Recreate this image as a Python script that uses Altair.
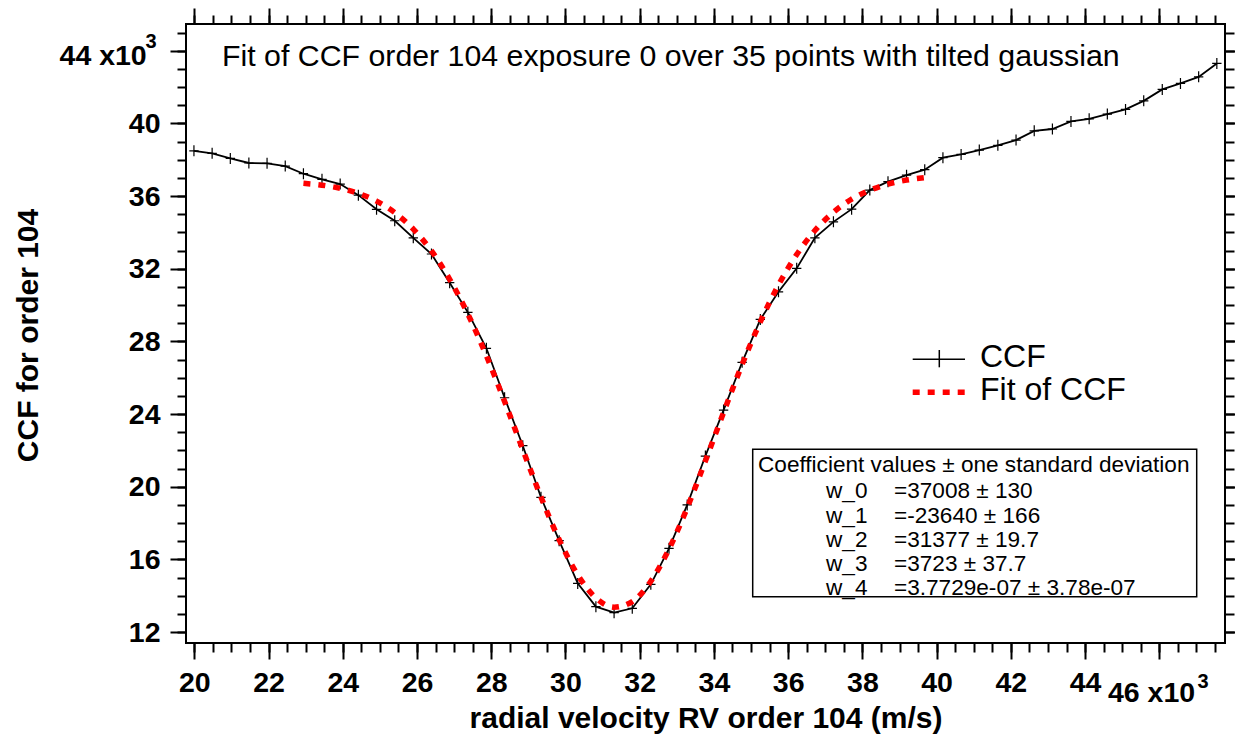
import altair as alt
import pandas as pd

# ---------------- data ----------------
rv = [19.99, 20.48, 20.97, 21.47, 21.96, 22.45, 22.94, 23.44, 23.93, 24.42,
      24.91, 25.40, 25.90, 26.39, 26.88, 27.37, 27.87, 28.36, 28.85, 29.34,
      29.83, 30.33, 30.82, 31.31, 31.80, 32.30, 32.79, 33.28, 33.77, 34.26,
      34.76, 35.25, 35.74, 36.23, 36.72, 37.22, 37.71, 38.20, 38.69, 39.19,
      39.68, 40.17, 40.66, 41.15, 41.65, 42.14, 42.63, 43.12, 43.62, 44.11,
      44.60, 45.09, 45.58, 46.08, 46.57, 47.06, 47.55]
ccf = [38.49, 38.35, 38.07, 37.82, 37.80, 37.65, 37.23, 36.92, 36.66, 36.05,
       35.27, 34.64, 33.70, 32.81, 31.23, 29.60, 27.62, 24.90, 22.26, 19.42,
       17.03, 14.68, 13.40, 13.07, 13.31, 14.63, 16.61, 19.00, 21.69, 24.22,
       26.85, 29.21, 30.73, 32.02, 33.70, 34.58, 35.28, 36.33, 36.79, 37.15,
       37.45, 38.11, 38.29, 38.53, 38.79, 39.08, 39.59, 39.69, 40.11, 40.25,
       40.51, 40.77, 41.24, 41.87, 42.20, 42.56, 43.30]
fit_rv = rv[6:41]
fit_ccf = [36.70, 36.60, 36.43, 36.15, 35.72, 35.09, 34.18, 32.98, 31.42, 29.51,
           27.21, 24.69, 22.05, 19.44, 17.09, 15.15, 13.88, 13.37, 13.68, 14.80,
           16.57, 18.84, 21.42, 24.09, 26.73, 29.08, 31.11, 32.78, 34.10, 35.11,
           35.83, 36.32, 36.66, 36.88, 37.01]

x_major = [20, 22, 24, 26, 28, 30, 32, 34, 36, 38, 40, 42, 44, 46]
y_major = [12, 16, 20, 24, 28, 32, 36, 40, 44]
x_minor = [20 + 0.5 * i for i in range(56)]
y_minor = list(range(12, 46))

title_text = "Fit of CCF order 104 exposure 0 over 35 points with tilted gaussian"
x_title = "radial velocity RV order 104 (m/s)"
y_title = "CCF for order 104"
x_last_label = "46 x10"
y_last_label = "44 x10"
exponent = "3"
legend_labels = ["CCF", "Fit of CCF"]
coef_header = "Coefficient values \u00b1 one standard deviation"
coef_names = ["w_0", "w_1", "w_2", "w_3", "w_4"]
coef_values = ["=37008 \u00b1 130", "=-23640 \u00b1 166", "=31377 \u00b1 19.7",
               "=3723 \u00b1 37.7", "=3.7729e-07 \u00b1 3.78e-07"]

df = pd.DataFrame({"rv": rv, "ccf": ccf})
fdf = pd.DataFrame({"rv": fit_rv, "ccf": fit_ccf})

W, H = 1039, 619
FONT = "Liberation Sans"

xs = alt.Scale(domain=[19.776, 47.77], nice=False, zero=False)
ys = alt.Scale(domain=[11.40, 45.47], nice=False, zero=False)


def axis(orient, values, size, labels=False, **kw):
    return alt.Axis(orient=orient, values=values, tickSize=size, labels=labels,
                    domain=False, grid=False, tickColor="black", tickWidth=2,
                    labelFont=FONT, labelFontSize=28.5, labelFontWeight="bold",
                    labelColor="black", labelFlush=False, labelOverlap=False,
                    **kw)


x_bottom_major = axis("bottom", x_major, 16, labels=True, labelPadding=9,
                      labelExpr="datum.value == 46 ? '' : datum.label",
                      title=x_title, titleFont=FONT, titleFontSize=30,
                      titleFontWeight="bold", titleColor="black",
                      titleX=W / 2, titleY=84, titleBaseline="alphabetic",
                      titleAlign="center")
y_left_major = axis("left", y_major, 16, labels=True, labelPadding=10,
                    labelExpr="datum.value == 44 ? '' : datum.label",
                    title=y_title, titleFont=FONT, titleFontSize=30,
                    titleFontWeight="bold", titleColor="black", titleAngle=270,
                    titleX=-149, titleY=311, titleBaseline="alphabetic",
                    titleAlign="center")

line = alt.Chart(df).mark_line(color="black", strokeWidth=1.8).encode(
    x=alt.X("rv:Q", scale=xs, axis=x_bottom_major),
    y=alt.Y("ccf:Q", scale=ys, axis=y_left_major),
)

cross = "M-0.85,0H0.85M0,-1V1"
points = alt.Chart(df).mark_point(shape=cross, filled=False, color="black",
                                  strokeWidth=1.2, size=121, opacity=1).encode(
    x=alt.X("rv:Q", scale=xs, axis=axis("bottom", x_minor, 9, title=None)),
    y=alt.Y("ccf:Q", scale=ys, axis=axis("left", y_minor, 9, title=None)),
)

fit = alt.Chart(fdf).mark_line(color="#ff0000", strokeWidth=5.5,
                               strokeDash=[7, 8], strokeCap="butt",
                               interpolate="monotone").encode(
    x=alt.X("rv:Q", scale=xs, axis=axis("top", x_major, 16, title=None)),
    y=alt.Y("ccf:Q", scale=ys, axis=axis("right", y_major, 16, title=None)),
)

ghost = alt.Chart(df).mark_point(opacity=0, size=1).encode(
    x=alt.X("rv:Q", scale=xs, axis=axis("top", x_minor, 9, title=None)),
    y=alt.Y("ccf:Q", scale=ys, axis=axis("right", y_minor, 9, title=None)),
)

one = alt.Data(values=[{"a": 1}])


def label(text, x, y, size, weight="normal", align="left", baseline="alphabetic"):
    return alt.Chart(one).mark_text(font=FONT, fontSize=size, fontWeight=weight,
                                    align=align, baseline=baseline,
                                    color="black").encode(
        x=alt.value(x), y=alt.value(y), text=alt.value(text))


annotations = [
    label(title_text, 36, 42, 30.3),
    # last tick labels with the x10^3 multiplier
    label(y_last_label, -39.3, 41, 28.5, weight="bold", align="right"),
    label(exponent, -40.5, 24, 20, weight="bold"),
    label(x_last_label, 922, 677.7, 28.5, weight="bold"),
    label(exponent, 1011.5, 664.3, 20, weight="bold"),
]

# legend
leg_line = alt.Chart(one).mark_rule(color="black", strokeWidth=1.5).encode(
    x=alt.value(726.7), x2=alt.value(779), y=alt.value(335.3))
leg_tick = alt.Chart(one).mark_rule(color="black", strokeWidth=1.5).encode(
    x=alt.value(753.3), y=alt.value(326), y2=alt.value(343.3))
leg_fit = alt.Chart(one).mark_rule(color="#ff0000", strokeWidth=5.5,
                                   strokeDash=[7, 8], strokeCap="butt").encode(
    x=alt.value(726.7), x2=alt.value(779), y=alt.value(368.3))
annotations += [leg_line, leg_tick, leg_fit,
                label(legend_labels[0], 794, 342.7, 32),
                label(legend_labels[1], 794, 376, 32)]

# coefficient box
box = alt.Chart(one).mark_rect(fill="white", stroke="black", strokeWidth=1.5).encode(
    x=alt.value(566.7), x2=alt.value(1010.7), y=alt.value(425.3), y2=alt.value(572.7))
annotations += [box, label(coef_header, 572, 447.7, 22.6)]
row_base = [474.3, 498.6, 522.9, 547.2, 570.5]
for name, val, yb in zip(coef_names, coef_values, row_base):
    annotations += [label(name, 640, yb, 22.6), label(val, 708, yb, 22.6)]

chart = alt.layer(line, points, fit, ghost, *annotations).resolve_axis(
    x="independent", y="independent"
).properties(
    width=W, height=H,
    padding={"left": 178, "top": 16, "right": 10, "bottom": 100},
    autosize=alt.AutoSizeParams(type="none"),
).configure_view(stroke="black", strokeWidth=2)

chart.save("out.html", embed_options={"renderer": "svg", "actions": False})
